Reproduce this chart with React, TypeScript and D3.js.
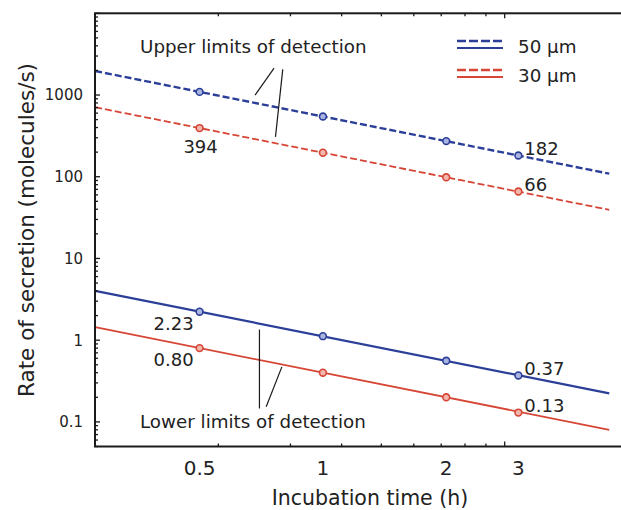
import React from "react";
import * as d3 from "d3";

// ---- data ----
const times = [0.5, 1, 2, 3]; // hours
const upper50 = [1092, 546, 273, 182];
const upper30 = [394, 197, 98.5, 66];
const lower50 = [2.23, 1.12, 0.56, 0.37];
const lower30 = [0.8, 0.4, 0.2, 0.13];

// fitted limit lines (end points)
const fitTimes = [0.278, 5.0];
const upper50Fit = [1966, 109];
const upper30Fit = [709, 39.4];
const lower50Fit = [4.01, 0.223];
const lower30Fit = [1.44, 0.08];

// axes
const xDomainSeconds = [1000, 20000];
const xTickValues = [0.5, 1, 2, 3];
const xTickLabels = ["0.5", "1", "2", "3"];
const yDomain = [0.05, 10000];
const yTickValues = [0.1, 1, 10, 100, 1000];
const yTickLabels = ["0.1", "1", "10", "100", "1000"];

const legendLabels = ["50 \u00b5m", "30 \u00b5m"];
const upperText = "Upper limits of detection";
const lowerText = "Lower limits of detection";
const xTitle = "Incubation time (h)";
const yTitle = "Rate of secretion (molecules/s)";

// value labels: [series, point index, text]
const upperLabels: [string, number, string][] = [
  ["upper30", 0, "394"],
  ["upper50", 3, "182"],
  ["upper30", 3, "66"],
];
const lowerLabels: [string, number, string][] = [
  ["lower50", 0, "2.23"],
  ["lower30", 0, "0.80"],
  ["lower50", 3, "0.37"],
  ["lower30", 3, "0.13"],
];

// leader lines (in data coordinates: [hours, rate])
const upperLeaders: [number, number][][] = [
  [[0.683, 997], [0.76, 2134]],
  [[0.798, 2057], [0.766, 308]],
];
const lowerLeaders: [number, number][][] = [
  [[0.7, 1.35], [0.7, 0.146]],
  [[0.794, 0.471], [0.727, 0.153]],
];

const BLUE = "#2b3f99";
const RED = "#d64535";
const FONT = "DejaVu Sans";

export default function App() {
  const left = 95, right = 628, top = 13.3, bottom = 446.5;
  const x = d3.scaleLog().domain([xDomainSeconds[0] / 3600, xDomainSeconds[1] / 3600]).range([left, right]);
  const xs = d3.scaleLog().domain(xDomainSeconds).range([left, right]);
  const y = d3.scaleLog().domain(yDomain).range([bottom, top]);

  const line = d3.line<[number, number]>().x((d) => x(d[0])).y((d) => y(d[1]));

  const series: Record<string, { vals: number[]; fit: number[]; color: string; dash?: string; w: number; fill: string }> = {
    upper50: { vals: upper50, fit: upper50Fit, color: BLUE, dash: "7,3", w: 2.4, fill: "#aab4e0" },
    upper30: { vals: upper30, fit: upper30Fit, color: RED, dash: "7,3", w: 1.8, fill: "#f2b5ab" },
    lower50: { vals: lower50, fit: lower50Fit, color: BLUE, w: 2.2, fill: "#aab4e0" },
    lower30: { vals: lower30, fit: lower30Fit, color: RED, w: 1.8, fill: "#f2b5ab" },
  };

  const isMajor = (v: number) => Math.abs(Math.log10(v) - Math.round(Math.log10(v))) < 1e-6;
  const xTicks = xs.ticks().filter((v) => v >= xDomainSeconds[0] && v <= xDomainSeconds[1]);
  const yTicks = y.ticks().filter((v) => v >= yDomain[0] && v <= yDomain[1]);

  const labelEl = (lab: [string, number, string], i: number) => {
    const s = series[lab[0]];
    const px = x(times[lab[1]]);
    const py = y(s.vals[lab[1]]);
    const first = lab[1] === 0;
    const isUpper = lab[0].startsWith("upper");
    let tx = px, ty = py, anchor = "start";
    if (first && isUpper) { tx = px + 1; ty = py + 25; anchor = "middle"; }
    else if (first) { tx = px - 6; ty = py + 18; anchor = "end"; }
    else { tx = px + 6; ty = py - 0.5; anchor = "start"; }
    return (
      <text key={"l" + i + lab[2]} x={tx} y={ty} textAnchor={anchor} fontSize={18} fill="#222">
        {lab[2]}
      </text>
    );
  };

  return (
    <svg width={621} height={510} style={{ position: "absolute", left: 0, top: 0, background: "#fff" }} fontFamily={FONT}>
      <rect x={0} y={0} width={621} height={510} fill="#fff" />
      {/* fitted lines */}
      {Object.entries(series).map(([k, s]) => (
        <path
          key={k}
          d={line(fitTimes.map((t, i) => [t, s.fit[i]] as [number, number])) || ""}
          fill="none"
          stroke={s.color}
          strokeWidth={s.w}
          strokeDasharray={s.dash}
        />
      ))}
      {/* markers */}
      {Object.entries(series).map(([k, s]) =>
        s.vals.map((v, i) => (
          <circle key={k + i} cx={x(times[i])} cy={y(v)} r={3.4} fill={s.fill} stroke={s.color} strokeWidth={1.6} />
        ))
      )}
      {/* frame */}
      <rect x={left} y={top} width={right - left} height={bottom - top} fill="none" stroke="#1a1a1a" strokeWidth={2} />
      {/* x ticks */}
      {xTicks.map((v) => {
        const L = isMajor(v) ? 5 : 3;
        return (
          <g key={"xt" + v} stroke="#1a1a1a" strokeWidth={1.3}>
            <line x1={xs(v)} x2={xs(v)} y1={bottom} y2={bottom - L} />
            <line x1={xs(v)} x2={xs(v)} y1={top} y2={top + L} />
          </g>
        );
      })}
      {/* y ticks */}
      {yTicks.map((v) => {
        const L = isMajor(v) ? 5 : 3;
        return (
          <g key={"yt" + v} stroke="#1a1a1a" strokeWidth={1.3}>
            <line x1={left} x2={left + L} y1={y(v)} y2={y(v)} />
            <line x1={right} x2={right - L} y1={y(v)} y2={y(v)} />
          </g>
        );
      })}
      {/* x tick labels */}
      {xTickValues.map((v, i) => (
        <text key={"xl" + i} x={x(v)} y={475} textAnchor="middle" fontSize={20} fill="#222">
          {xTickLabels[i]}
        </text>
      ))}
      {/* y tick labels */}
      {yTickValues.map((v, i) => (
        <text key={"yl" + i} x={83} y={y(v)} dy="0.36em" textAnchor="end" fontSize={15} fill="#222">
          {yTickLabels[i]}
        </text>
      ))}
      {/* axis titles */}
      <text x={370} y={505} textAnchor="middle" fontSize={20.5} fill="#222">
        {xTitle}
      </text>
      <text transform="translate(33.5,230) rotate(-90)" textAnchor="middle" fontSize={21.5} fill="#222">
        {yTitle}
      </text>
      {/* annotations */}
      <text x={140} y={52.5} fontSize={18.3} fill="#222">{upperText}</text>
      <text x={140} y={428.3} fontSize={18.3} fill="#222">{lowerText}</text>
      {[...upperLeaders, ...lowerLeaders].map((seg, i) => (
        <line key={"ld" + i} x1={x(seg[0][0])} y1={y(seg[0][1])} x2={x(seg[1][0])} y2={y(seg[1][1])} stroke="#1a1a1a" strokeWidth={1.2} />
      ))}
      {upperLabels.map(labelEl)}
      {lowerLabels.map(labelEl)}
      {/* legend */}
      {[BLUE, RED].map((c, i) => (
        <g key={"lg" + i}>
          <line x1={457} x2={503} y1={41 + i * 29} y2={41 + i * 29} stroke={c} strokeWidth={2.4} strokeDasharray="9,3" />
          <line x1={457} x2={503} y1={48 + i * 29} y2={48 + i * 29} stroke={c} strokeWidth={2.2} />
          <text x={518} y={53.3 + i * 28.4} fontSize={18.3} fill="#222">{legendLabels[i]}</text>
        </g>
      ))}
    </svg>
  );
}
